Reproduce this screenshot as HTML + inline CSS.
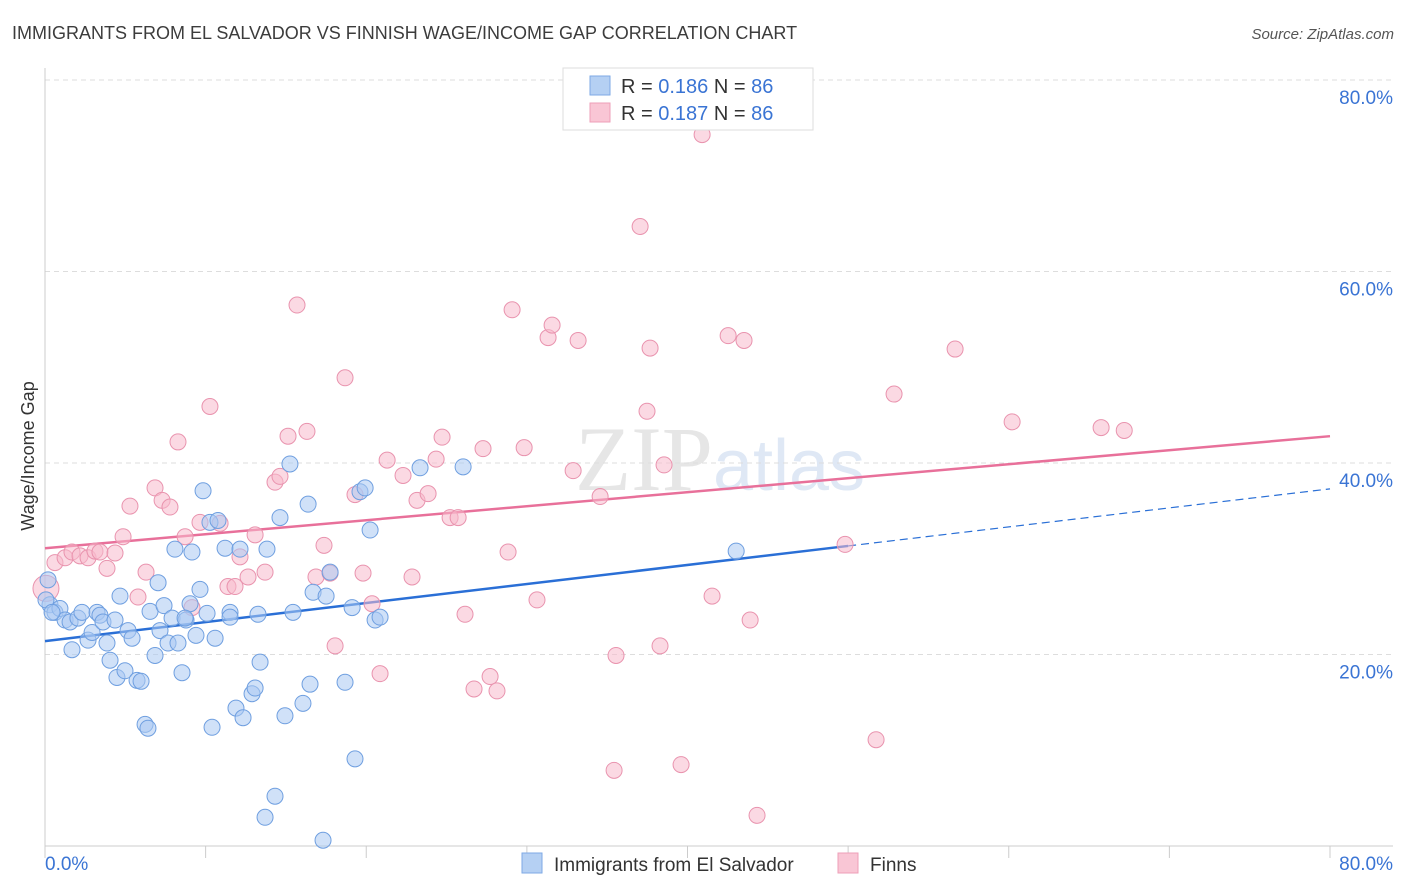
<!DOCTYPE html>
<html><head><meta charset="utf-8"><style>
body{margin:0;background:#fff;font-family:"Liberation Sans",sans-serif;}
svg{display:block}
</style></head><body>
<svg id="chart" width="1406" height="892" xmlns="http://www.w3.org/2000/svg">
<text x="12" y="39" font-size="18" fill="#3c3c3c">IMMIGRANTS FROM EL SALVADOR VS FINNISH WAGE/INCOME GAP CORRELATION CHART</text>
<text x="1394" y="39" font-size="15" font-style="italic" fill="#555" text-anchor="end">Source: ZipAtlas.com</text>
<text x="720" y="490" font-size="92" fill="#e6e6e6" text-anchor="middle" font-family="Liberation Serif,serif">ZIP<tspan fill="#dfe8f5" font-family="Liberation Sans,sans-serif" font-size="72">atlas</tspan></text>
<g id="grid"></g>
<g id="axes"></g>
<g id="lines"></g>
<g id="pts"></g>
<text transform="translate(34,456) rotate(-90)" font-size="18" fill="#333" text-anchor="middle">Wage/Income Gap</text>
<g>
<rect x="563" y="68" width="250" height="62" fill="#fff" stroke="#ddd"/>
<rect x="590" y="76" width="20" height="19" fill="#b5d0f3" stroke="#7ea9e6"/>
<text x="621" y="93" font-size="20" fill="#333">R = <tspan fill="#3a74d4">0.186</tspan>   N = <tspan fill="#3a74d4">86</tspan></text>
<rect x="590" y="103" width="20" height="19" fill="#f9c6d5" stroke="#ee9fb8"/>
<text x="621" y="120" font-size="20" fill="#333">R = <tspan fill="#3a74d4">0.187</tspan>   N = <tspan fill="#3a74d4">86</tspan></text>
</g>
<g>
<rect x="522" y="853" width="20" height="20" fill="#b5d0f3" stroke="#7ea9e6"/>
<text x="554" y="871" font-size="19" fill="#333">Immigrants from El Salvador</text>
<rect x="838" y="853" width="20" height="20" fill="#f9c6d5" stroke="#ee9fb8"/>
<text x="870" y="871" font-size="19" fill="#333">Finns</text>
</g>
</svg>
<script>
const blueX=[0.31,0.62,0.93,1.25,1.56,1.68,2.05,2.30,2.68,2.93,3.24,3.42,3.61,3.86,4.05,4.36,4.48,4.67,4.98,5.17,5.42,5.73,5.98,6.23,6.41,6.54,6.85,7.04,7.16,7.41,7.66,7.91,8.09,8.28,8.53,8.78,9.03,9.15,9.40,9.65,9.84,10.09,10.27,10.40,10.59,10.77,11.21,11.52,11.89,12.14,12.33,12.89,13.08,13.26,13.39,13.82,13.70,14.32,14.63,14.94,15.25,15.44,16.06,16.38,16.50,16.69,17.31,17.50,17.75,18.68,19.12,19.30,19.61,19.93,20.24,20.55,20.86,23.35,26.03,43.03,0.06,0.19,0.44,8.72,11.52];
const blueY=[25.2,24.4,24.8,23.6,23.4,20.5,23.8,24.4,21.5,22.3,24.4,24.1,23.4,21.2,19.4,23.6,17.6,26.1,18.3,22.5,21.7,17.3,17.2,12.7,12.3,24.5,19.9,27.5,22.5,25.1,21.2,23.8,31.0,21.2,18.1,23.6,25.3,30.7,22.0,26.8,37.1,24.3,33.8,12.4,21.7,34.0,31.1,24.4,14.4,31.0,13.4,15.9,16.5,24.2,19.2,31.0,3.0,5.2,34.3,13.6,39.9,24.4,14.9,35.7,16.9,26.5,0.6,26.1,28.6,17.1,24.9,9.1,37.0,37.4,33.0,23.6,23.9,39.5,39.6,30.8,25.7,27.8,24.4,23.8,23.9];
const pinkX=[0.06,0.62,1.25,1.68,2.18,2.68,3.11,3.42,3.86,4.36,4.86,5.29,5.79,6.29,6.85,7.29,7.78,8.28,8.72,9.15,9.65,10.27,10.90,11.39,11.83,12.14,12.64,13.08,13.70,14.32,14.63,15.13,15.69,16.31,16.87,17.37,17.75,18.68,18.06,19.30,19.80,20.36,20.86,21.30,22.29,22.85,23.16,23.85,24.35,24.72,25.22,25.72,26.15,26.71,27.27,27.71,28.14,28.83,29.08,29.83,30.63,31.32,31.57,32.88,33.19,34.56,35.43,35.55,37.05,37.48,37.67,38.29,38.54,39.60,40.91,41.53,42.53,43.52,43.90,44.33,49.81,51.74,52.86,56.66,60.21,65.75,67.19];
const pinkY=[26.9,29.6,30.1,30.7,30.3,30.1,30.8,30.7,29.0,30.6,32.3,35.5,26.0,28.6,37.4,36.1,35.4,42.2,32.3,24.9,33.8,45.9,33.7,27.1,27.1,30.2,28.1,32.5,28.6,38.0,38.6,42.8,56.5,43.3,28.1,31.4,28.5,48.9,20.9,36.7,28.5,25.3,18.0,40.3,38.7,28.1,36.1,36.8,40.4,42.7,34.3,34.3,24.2,16.4,41.5,17.7,16.2,30.7,56.0,41.6,25.7,53.1,54.4,39.2,52.8,36.5,7.9,19.9,64.7,45.4,52.0,20.9,39.8,8.5,74.3,26.1,53.3,52.8,23.6,3.2,31.5,11.1,47.2,51.9,44.3,43.7,43.4];
const yTicks=[20,40,60,80];
const yTickLabels=["20.0%","40.0%","60.0%","80.0%"];
const xTickValues=[0,10,20,30,40,50,60,70,80];
const blueTrend=[21.4,37.3];
const pinkTrend=[31.1,42.8];
const blueSolidEnd=50;

const NS="http://www.w3.org/2000/svg";
const X0=45,X1=1330,Y0=846,Y80=80;
const sx=v=>X0+(v/80)*(X1-X0);
const sy=v=>Y0-(v/80)*(Y0-Y80);
function mk(tag,attrs,parent){const e=document.createElementNS(NS,tag);for(const k in attrs)e.setAttribute(k,attrs[k]);parent.appendChild(e);return e;}
const grid=document.getElementById('grid'),axes=document.getElementById('axes'),lines=document.getElementById('lines'),pts=document.getElementById('pts');
yTicks.forEach((t,i)=>{
  const l=mk('line',{x1:X0,x2:1393,y1:sy(t),y2:sy(t),stroke:'#ddd','stroke-dasharray':'5,4'},grid);
  
  
  const tx=mk('text',{x:1393,y:sy(t)+24,'font-size':'19','text-anchor':'end',fill:'#3a74d4'},axes);
  tx.textContent=yTickLabels[i];
  
  
});
const ya=mk('line',{x1:X0,x2:X0,y1:68,y2:Y0,stroke:'#ccc'},axes);


const xa=mk('line',{x1:X0,x2:1393,y1:Y0,y2:Y0,stroke:'#ccc'},axes);


xTickValues.forEach(v=>{
  const t=mk('line',{x1:sx(v),x2:sx(v),y1:Y0,y2:858,stroke:'#ccc'},axes);
  
  
});
const xl0=mk('text',{x:45,y:870,'font-size':'19',fill:'#3a74d4'},axes);xl0.textContent='0.0%';


const xl1=mk('text',{x:1393,y:870,'font-size':'19',fill:'#3a74d4','text-anchor':'end'},axes);xl1.textContent='80.0%';



function drawPts(xs,ys,fill,stroke,name){
  xs.forEach((x,i)=>{
    const c=mk('circle',{cx:sx(x),cy:sy(ys[i]),r:(name==='point-finns'&&i===0)?13:8,fill:fill,'fill-opacity':'0.55',stroke:stroke,'stroke-width':'1'},pts);
    
    
  });
}
drawPts(pinkX,pinkY,'#f7b9cc','#e993ae','point-finns');
drawPts(blueX,blueY,'#a9c8f2','#6f9fe0','point-el-salvador');

const bAt=v=>blueTrend[0]+(blueTrend[1]-blueTrend[0])*v/80;
const bl=mk('line',{x1:sx(0),y1:sy(blueTrend[0]),x2:sx(blueSolidEnd),y2:sy(bAt(blueSolidEnd)),stroke:'#2a6fd6','stroke-width':'2.5'},lines);


const bd=mk('line',{x1:sx(blueSolidEnd),y1:sy(bAt(blueSolidEnd)),x2:sx(80),y2:sy(blueTrend[1]),stroke:'#2a6fd6','stroke-width':'1.2','stroke-dasharray':'8,5'},lines);


const pl=mk('line',{x1:sx(0),y1:sy(pinkTrend[0]),x2:sx(80),y2:sy(pinkTrend[1]),stroke:'#e8709a','stroke-width':'2.5'},lines);


</script>
</body></html>
